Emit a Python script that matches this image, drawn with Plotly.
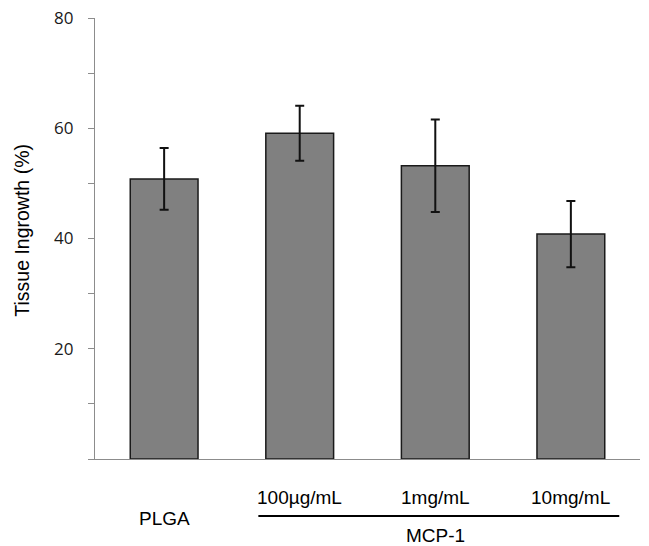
import plotly.graph_objects as go

categories = ["PLGA", "100µg/mL", "1mg/mL", "10mg/mL"]
ingrowth = [50.8, 59.1, 53.2, 40.8]
errors = [5.6, 5.0, 8.4, 6.0]
y_tick_vals = [0, 10, 20, 30, 40, 50, 60, 70, 80]
y_tick_text = ["", "", "20", "", "40", "", "60", "", "80"]
group_label = "MCP-1"
y_title = "Tissue Ingrowth (%)"

W, H = 649, 546
L, R, T, B = 95, 9, 18, 87
PW, PH = W - L - R, H - T - B
BOTTOM = H - B  # screen y of the x axis


def fx(px):  # screen x -> paper fraction
    return (px - L) / PW


def fy(py):  # screen y -> paper fraction
    return (BOTTOM - py) / PH


fig = go.Figure()
fig.add_trace(go.Bar(
    x=list(range(len(categories))), y=ingrowth, width=0.5,
    marker=dict(color="#808080", line=dict(color="#1a1a1a", width=1.5)),
    error_y=dict(type="data", array=errors, visible=True, color="#111111",
                 thickness=2, width=4.5),
))

lab_font = dict(family="Liberation Sans, Arial", size=19, color="#000")
for i, c in enumerate(categories):
    fig.add_annotation(x=i, y=fy(518) if i == 0 else fy(497), xref="x", yref="paper",
                       text=c, showarrow=False, yanchor="middle", font=lab_font)
fig.add_annotation(x=2, y=fy(535), xref="x", yref="paper", text=group_label,
                   showarrow=False, yanchor="middle", font=lab_font)
fig.add_shape(type="line", xref="x", yref="paper", x0=0.695, x1=3.357,
              y0=fy(516), y1=fy(516), line=dict(color="#000", width=2))

fig.add_annotation(x=fx(21.7), y=fy(230), xref="paper", yref="paper", text=y_title,
                   showarrow=False, textangle=-90, xanchor="center", yanchor="middle",
                   font=dict(family="Liberation Sans, Arial", size=19.5, color="#000"))

fig.update_layout(
    width=W, height=H,
    margin=dict(l=L, r=R, t=T, b=B),
    plot_bgcolor="white", paper_bgcolor="white",
    showlegend=False,
    xaxis=dict(range=[-0.51, 3.51], showticklabels=False, ticks="",
               showgrid=False, zeroline=False, showline=True, automargin=False,
               linecolor="#8c8c8c", linewidth=1.2),
    yaxis=dict(range=[0, 80], tickvals=y_tick_vals, ticktext=y_tick_text,
               ticks="outside", ticklen=6, tickcolor="#8c8c8c", tickwidth=1.2,
               ticklabelstandoff=11, ticklabeloverflow="allow", automargin=False,
               showgrid=False, zeroline=False, showline=True,
               linecolor="#8c8c8c", linewidth=1.2,
               tickfont=dict(family="Open Sans", size=17, color="#1a1a1a")),
)
fig.write_html("out.html", config={"displayModeBar": False},
               post_script="document.body.style.margin='0';document.body.style.padding='0';")
